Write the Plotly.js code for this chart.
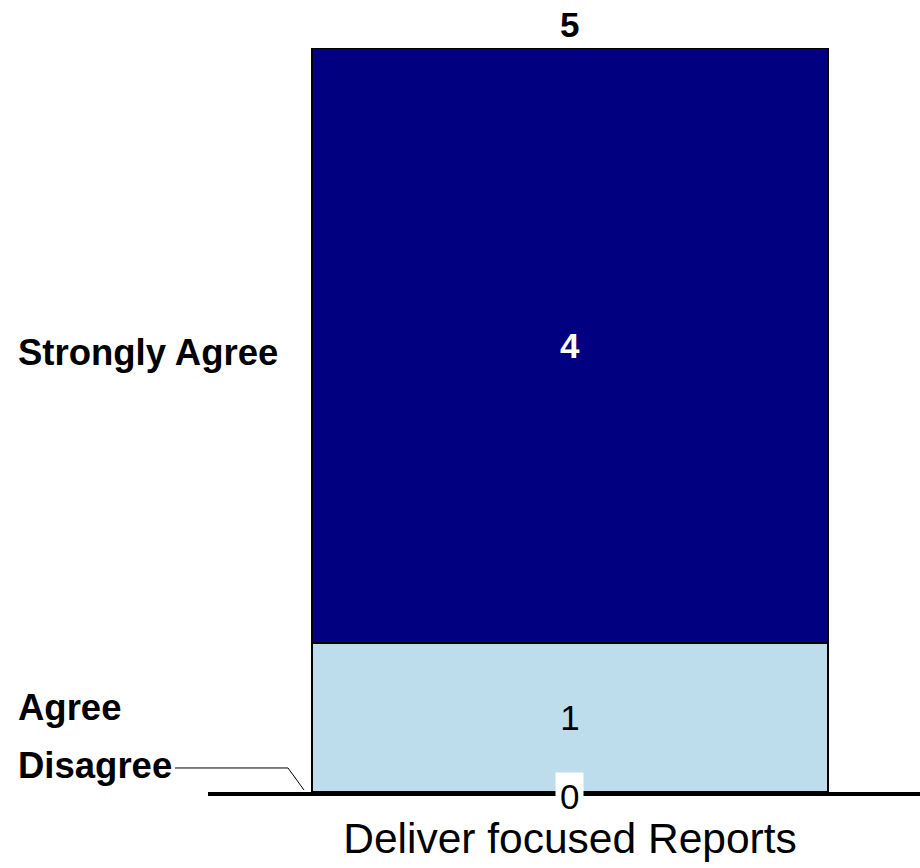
<!DOCTYPE html>
<html>
<head>
<meta charset="utf-8">
<script src="https://cdn.plot.ly/plotly-3.0.1.min.js"></script>
<style>html,body{margin:0;padding:0;background:#fff;}#chart{width:920px;height:868px;}</style>
</head>
<body>
<div id="chart"></div>
<script>
const categories = ['Deliver focused Reports'];
const seriesNames = ['Disagree', 'Agree', 'Strongly Agree'];
const disagree = [0];
const agree = [1];
const stronglyAgree = [4];
const totals = [5];
const colors = ['#FFFFFF', '#BDDDED', '#000080'];

const FONT = 'Liberation Sans, Arial, sans-serif';
const values = [disagree, agree, stronglyAgree];

const traces = values.map((v, i) => ({
  type: 'bar',
  name: seriesNames[i],
  x: categories,
  y: v,
  width: 0.725,
  marker: {color: colors[i], line: {color: '#000', width: 1.5}},
  text: i === 0 ? [''] : v.map(String),
  texttemplate: i === 0 ? '' : '%{text}',
  textposition: 'inside',
  insidetextanchor: 'middle',
  textangle: 0,
  textfont: {family: FONT, size: 35, color: i === 2 ? '#FFFFFF' : '#000000', weight: i === 2 ? 'bold' : 'normal'},
  hoverinfo: 'none'
}));

let cum = 0;
const labelY = values.map(v => { const mid = cum + v[0] / 2; cum += v[0]; return mid; });

const annotations = [
  {x: categories[0], y: totals[0], xref: 'x', yref: 'y', text: '<b>' + totals[0] + '</b>', showarrow: false,
   yanchor: 'bottom', yshift: 2, font: {family: FONT, size: 35, color: '#000'}},
  {x: categories[0], y: disagree[0], xref: 'x', yref: 'y', text: String(disagree[0]), showarrow: false,
   yanchor: 'middle', yshift: -4, bgcolor: '#FFFFFF', borderpad: 4, font: {family: FONT, size: 35, color: '#000'}},
  {x: -0.2697, xref: 'paper', y: labelY[2], yref: 'y', xanchor: 'left', text: '<b>' + seriesNames[2] + '</b>', showarrow: false,
   yshift: -7, font: {family: FONT, size: 36.5, color: '#000'}},
  {x: -0.2697, xref: 'paper', y: 0.565, yref: 'y', xanchor: 'left', text: '<b>' + seriesNames[1] + '</b>', showarrow: false,
   font: {family: FONT, size: 36.5, color: '#000'}},
  {x: -0.2697, xref: 'paper', y: 0.18, yref: 'y', xanchor: 'left', text: '<b>' + seriesNames[0] + '</b>', showarrow: false,
   font: {family: FONT, size: 36.5, color: '#000'}}
];

const layout = {
  width: 920, height: 868,
  margin: {l: 208, r: 0, t: 48, b: 76},
  paper_bgcolor: '#fff', plot_bgcolor: '#fff',
  barmode: 'stack',
  showlegend: false,
  xaxis: {
    type: 'category', range: [-0.5084, 0.4916], showgrid: false, zeroline: false,
    showline: true, linecolor: '#000', linewidth: 4, ticks: '',
    tickfont: {family: FONT, size: 42.5, color: '#000'}, ticklabelstandoff: 6
  },
  yaxis: {range: [0, 5], visible: false, showgrid: false, zeroline: false},
  annotations: annotations,
  shapes: [
    {type: 'path', xref: 'paper', yref: 'paper',
     path: 'M -0.0463 0.0323 L 0.1124 0.0323 L 0.1348 0.0027', line: {color: '#000', width: 1}}
  ]
};

Plotly.newPlot('chart', traces, layout, {displayModeBar: false, staticPlot: true});
</script>
</body>
</html>
